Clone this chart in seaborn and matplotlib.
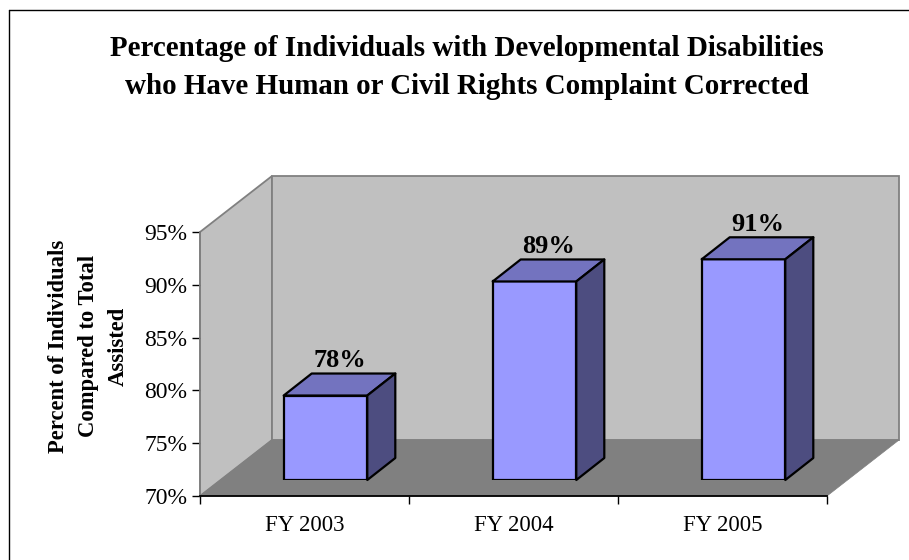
import matplotlib
matplotlib.use('Agg')
import matplotlib.pyplot as plt
from matplotlib.patches import Polygon
import pandas as pd
import seaborn as sns

categories = ['FY 2003', 'FY 2004', 'FY 2005']
values = [78, 88.8, 90.9]
labels = ['78%', '89%', '91%']
y_ticks = [70, 75, 80, 85, 90, 95]

W, H = 909, 560
# axis box in pixels
LEFT, RIGHT, TOP, BOTTOM = 200, 827, 232, 496
# depth of the 3d box and of the bars
WALL_DX, WALL_DY = 72, 56
BAR_DX, BAR_DY = 28, 22


def px(x, y):
    return x / W, 1 - y / H


def add_poly(fig, pts, **kw):
    fig.add_artist(Polygon([px(*p) for p in pts], closed=True, transform=fig.transFigure, **kw))


def make_plot():
    sns.set_style('white')
    plt.rcParams['font.family'] = ['Liberation Serif', 'DejaVu Serif']
    plt.rcParams['text.color'] = 'black'
    plt.rcParams['xtick.color'] = 'black'
    plt.rcParams['ytick.color'] = 'black'

    fig = plt.figure(figsize=(W / 100, H / 100), dpi=100)

    # frame of the chart, only top and left are visible
    fig.add_artist(plt.Line2D([8.5 / W, 1], [1 - 10 / H] * 2, color='black', lw=1))
    fig.add_artist(plt.Line2D([8.5 / W] * 2, [1 - 10 / H, 0], color='black', lw=1))

    # side wall, back wall, floor
    wall = dict(facecolor='#c0c0c0', edgecolor='#808080', lw=1.3, zorder=1)
    add_poly(fig, [(LEFT, BOTTOM), (LEFT, TOP), (LEFT + WALL_DX, TOP - WALL_DY), (LEFT + WALL_DX, BOTTOM - WALL_DY)], **wall)
    add_poly(fig, [(LEFT + WALL_DX, BOTTOM - WALL_DY), (LEFT + WALL_DX, TOP - WALL_DY),
                   (RIGHT + WALL_DX, TOP - WALL_DY), (RIGHT + WALL_DX, BOTTOM - WALL_DY)], **wall)
    add_poly(fig, [(LEFT, BOTTOM), (LEFT + WALL_DX, BOTTOM - WALL_DY), (RIGHT + WALL_DX, BOTTOM - WALL_DY),
                   (RIGHT, BOTTOM)], facecolor='#808080', edgecolor='#808080', lw=0.5, zorder=1)

    # main axes carries the ticks
    x0, y0 = px(LEFT, BOTTOM)
    ax = fig.add_axes([x0, y0, (RIGHT - LEFT) / W, (BOTTOM - TOP) / H], zorder=2)
    ax.patch.set_alpha(0)
    ax.set_xlim(-0.5, 2.5)
    ax.set_ylim(70, 95)
    ax.set_yticks(y_ticks)
    ax.set_yticklabels([f'{t}%' for t in y_ticks], fontsize=17)
    ax.set_xticks([-0.5, 0.5, 1.5, 2.5])
    ax.set_xticklabels([])
    ax.set_xticks(range(3), minor=True)
    ax.set_xticklabels(categories, minor=True, fontsize=16.4)
    ax.tick_params(axis='x', which='minor', length=0, pad=14, bottom=True)
    ax.tick_params(axis='x', which='major', length=6, width=1, bottom=True)
    ax.tick_params(axis='y', length=6, width=1, pad=3, direction='out', left=True)
    for s in ['top', 'right', 'left']:
        ax.spines[s].set_visible(False)
    ax.spines['bottom'].set_color('black')
    ax.spines['bottom'].set_linewidth(1.3)
    ax.plot([-0.5, -0.5], [70, 95], color='#808080', lw=1.3, clip_on=False)

    # bars sit on a shifted axes, the floor offset of the 3d box
    bx0, by0 = px(LEFT + 21, BOTTOM - 16)
    ax2 = fig.add_axes([bx0, by0, (RIGHT - LEFT) / W, (BOTTOM - TOP) / H], zorder=3)
    ax2.patch.set_alpha(0)
    df = pd.DataFrame({'year': categories, 'value': [v - 70 for v in values]})
    sns.barplot(data=df, x='year', y='value', ax=ax2, color='#9999ff', saturation=1,
                width=0.4, edgecolor='black', linewidth=1.6, bottom=70)
    ax2.set_xlim(-0.5, 2.5)
    ax2.set_ylim(70, 95)
    ax2.axis('off')

    fig.canvas.draw()
    for patch, lab in zip(ax2.patches, labels):
        (xa, ya), (xb, yb) = ax2.transData.transform(patch.get_bbox().get_points())
        # display coordinates to image pixels
        ya, yb = H - ya, H - yb
        edge = dict(edgecolor='black', lw=1.6, zorder=4, joinstyle='round')
        add_poly(fig, [(xa, yb), (xb, yb), (xb + BAR_DX, yb - BAR_DY), (xa + BAR_DX, yb - BAR_DY)],
                 facecolor='#7373bf', **edge)
        add_poly(fig, [(xb, ya), (xb, yb), (xb + BAR_DX, yb - BAR_DY), (xb + BAR_DX, ya - BAR_DY)],
                 facecolor='#4d4d80', **edge)
        fx, fy = px((xa + xb) / 2 + BAR_DX / 2, yb - BAR_DY - 13)
        fig.text(fx, fy, lab, ha='center', va='center', fontsize=19, fontweight='bold')

    fig.text(*px(467, 67.5), 'Percentage of Individuals with Developmental Disabilities\n'
             'who Have Human or Civil Rights Complaint Corrected',
             ha='center', va='center', fontsize=20.9, fontweight='bold', linespacing=1.5)
    fig.text(*px(88.5, 346), 'Percent of Individuals\nCompared to Total\nAssisted', rotation=90,
             ha='center', va='center', fontsize=16.3, fontweight='bold', linespacing=1.55)
    return fig


if __name__ == '__main__':
    fig = make_plot()
    fig.savefig('out.png', dpi=100)
    plt.close()
